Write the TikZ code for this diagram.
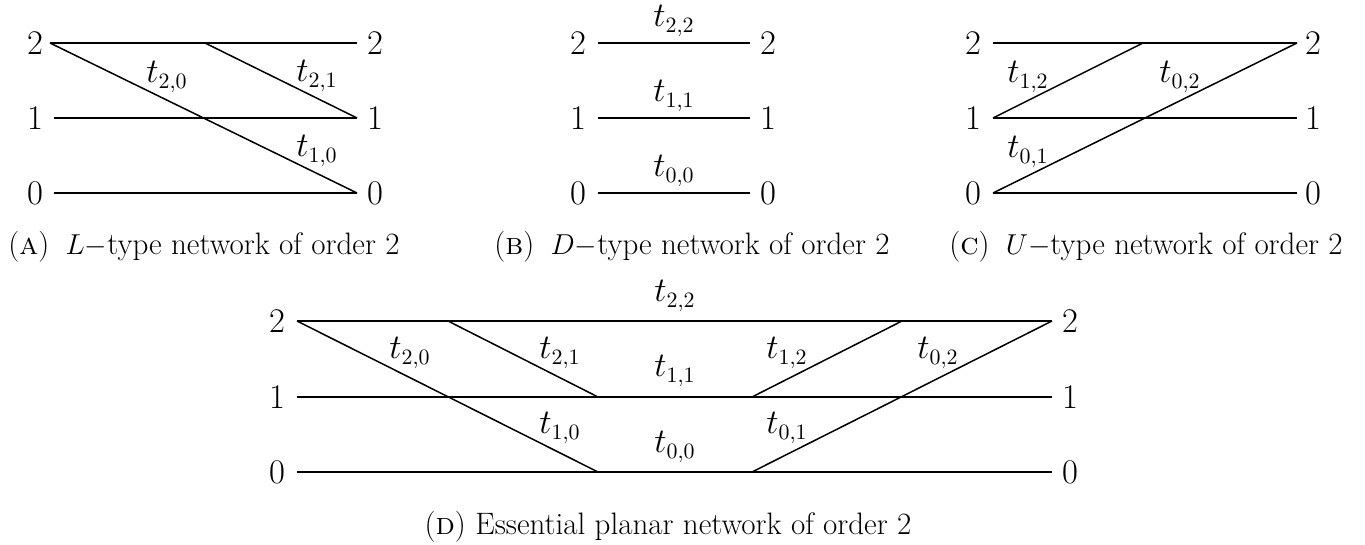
\documentclass[tikz,border=0pt]{standalone}
\begin{document}
\begin{tikzpicture}[x=0.5pt,y=-0.5pt,
  lab/.style={inner sep=0pt,font=\fontsize{16}{19}\selectfont},
  captext/.style={inner sep=0pt,font=\fontsize{15.5}{18}\selectfont},
  wire/.style={line width=0.75pt}]
\useasboundingbox (0,0) rectangle (1365,545);
% ---------- Panel A ----------
\foreach \k/\y in {2/43,1/118,0/193}{
  \node[lab] (Aln\k) at (35,\y) {$\k$};
  \node[lab] (Arn\k) at (375,\y) {$\k$};
}
\coordinate (A2l) at (50,43);  \coordinate (A2r) at (357,43);
\coordinate (A1l) at (54,118); \coordinate (A1r) at (357,118);
\coordinate (A0l) at (54,193); \coordinate (A0r) at (357,193);
\coordinate (Am) at (205,43);
\draw[wire] (A2l) -- (A2r);
\draw[wire] (A1l) -- (A1r);
\draw[wire] (A0l) -- (A0r);
\draw[wire] (A2l) -- (A0r);
\draw[wire] (Am) -- (A1r);
\node[lab] (At20) at (167,77) {$t_{2,0}$};
\node[lab] (At21) at (317,76) {$t_{2,1}$};
\node[lab] (At10) at (317,151) {$t_{1,0}$};
\node[captext] (Acap) at (204,247) {(\textsc{a})\hspace{3.5pt} $L-$type network of order 2};
% ---------- Panel B ----------
\foreach \k/\y in {2/43,1/118,0/193}{
  \node[lab] (Bln\k) at (578,\y) {$\k$};
  \node[lab] (Brn\k) at (768,\y) {$\k$};
  \coordinate (B\k l) at (598,\y);
  \coordinate (B\k r) at (750,\y);
  \draw[wire] (B\k l) -- (B\k r);
  \node[lab] (Bt\k) at (674,\y-22) {$t_{\k,\k}$};
}
\node[captext] (Bcap) at (692,247) {(\textsc{b})\hspace{3.5pt} $D-$type network of order 2};
% ---------- Panel C ----------
\foreach \k/\y in {2/43,1/118,0/193}{
  \node[lab] (Cln\k) at (973,\y) {$\k$};
  \node[lab] (Crn\k) at (1313,\y) {$\k$};
}
\coordinate (C2l) at (993,43);  \coordinate (C2r) at (1297,43);
\coordinate (C1l) at (993,118); \coordinate (C1r) at (1297,118);
\coordinate (C0l) at (993,193); \coordinate (C0r) at (1297,193);
\coordinate (Cm) at (1143,43);
\draw[wire] (C2l) -- (C2r);
\draw[wire] (C1l) -- (C1r);
\draw[wire] (C0l) -- (C0r);
\draw[wire] (C1l) -- (Cm);
\draw[wire] (C0l) -- (C2r);
\node[lab] (Ct12) at (1028,77) {$t_{1,2}$};
\node[lab] (Ct02) at (1180,77) {$t_{0,2}$};
\node[lab] (Ct01) at (1028,152) {$t_{0,1}$};
\node[captext] (Ccap) at (1146,247) {(\textsc{c})\hspace{3.5pt} $U-$type network of order 2};
% ---------- Panel D ----------
\foreach \k/\y in {2/321,1/397,0/472}{
  \node[lab] (Dln\k) at (277,\y) {$\k$};
  \node[lab] (Drn\k) at (1070,\y) {$\k$};
  \coordinate (D\k l) at (297,\y);
  \coordinate (D\k r) at (1052,\y);
  \draw[wire] (D\k l) -- (D\k r);
}
\coordinate (Da) at (448,321);
\coordinate (Db) at (598,397);
\coordinate (Dc) at (598,472);
\coordinate (Dd) at (752,397);
\coordinate (De) at (752,472);
\coordinate (Df) at (902,321);
\draw[wire] (D2l) -- (Dc);
\draw[wire] (Da) -- (Db);
\draw[wire] (Dd) -- (Df);
\draw[wire] (De) -- (D2r);
\node[lab] (Dt22) at (675,296) {$t_{2,2}$};
\node[lab] (Dt11) at (675,371) {$t_{1,1}$};
\node[lab] (Dt00) at (675,447) {$t_{0,0}$};
\node[lab] (Dt20) at (410,353) {$t_{2,0}$};
\node[lab] (Dt21) at (560,353) {$t_{2,1}$};
\node[lab] (Dt10) at (560,428) {$t_{1,0}$};
\node[lab] (Dt12) at (787,353) {$t_{1,2}$};
\node[lab] (Dt02) at (938,353) {$t_{0,2}$};
\node[lab] (Dt01) at (787,428) {$t_{0,1}$};
\node[captext] (Dcap) at (668,527) {(\textsc{d}) Essential planar network of order 2};
\end{tikzpicture}
\end{document}
